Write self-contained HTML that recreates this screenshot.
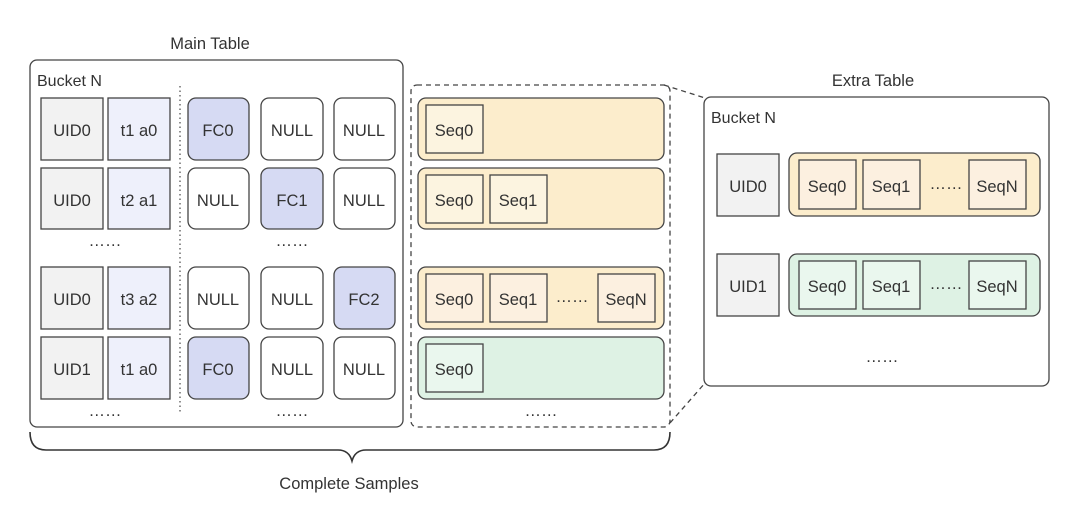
<!DOCTYPE html>
<html><head><meta charset="utf-8"><style>
html,body{margin:0;padding:0;background:#fff}
svg{display:block}
text{font-family:"Liberation Sans","Noto Sans CJK SC",sans-serif;fill:#333;font-size:16.5px}
.c{text-anchor:middle}
</style></head><body>
<svg width="1080" height="523" viewBox="0 0 1080 523" xmlns="http://www.w3.org/2000/svg">
<g stroke="#444" stroke-width="1.3">
<rect x="30" y="60" width="373" height="367" rx="7" fill="#fff"/>
<line x1="180" y1="86" x2="180" y2="412" stroke-dasharray="1.5,3" stroke="#555"/>
<rect x="41" y="98" width="62" height="62" fill="#f2f2f2"/>
<rect x="108" y="98" width="62" height="62" fill="#eef0fb"/>
<rect x="41" y="168" width="62" height="61" fill="#f2f2f2"/>
<rect x="108" y="168" width="62" height="61" fill="#eef0fb"/>
<rect x="41" y="267" width="62" height="62" fill="#f2f2f2"/>
<rect x="108" y="267" width="62" height="62" fill="#eef0fb"/>
<rect x="41" y="337" width="62" height="62" fill="#f2f2f2"/>
<rect x="108" y="337" width="62" height="62" fill="#eef0fb"/>
<rect x="188" y="98" width="61" height="62" rx="8" fill="#d6daf3"/>
<rect x="261" y="98" width="62" height="62" rx="8" fill="#fff"/>
<rect x="334" y="98" width="61" height="62" rx="8" fill="#fff"/>
<rect x="188" y="168" width="61" height="61" rx="8" fill="#fff"/>
<rect x="261" y="168" width="62" height="61" rx="8" fill="#d6daf3"/>
<rect x="334" y="168" width="61" height="61" rx="8" fill="#fff"/>
<rect x="188" y="267" width="61" height="62" rx="8" fill="#fff"/>
<rect x="261" y="267" width="62" height="62" rx="8" fill="#fff"/>
<rect x="334" y="267" width="61" height="62" rx="8" fill="#d6daf3"/>
<rect x="188" y="337" width="61" height="62" rx="8" fill="#d6daf3"/>
<rect x="261" y="337" width="62" height="62" rx="8" fill="#fff"/>
<rect x="334" y="337" width="61" height="62" rx="8" fill="#fff"/>
<rect x="411" y="85" width="259" height="342" rx="6" fill="none" stroke-dasharray="5,4"/>
<line x1="664" y1="85" x2="705" y2="98" stroke-dasharray="5,4"/>
<line x1="670" y1="423" x2="705" y2="383" stroke-dasharray="5,4"/>
<rect x="418" y="98" width="246" height="62" rx="8" fill="#fcedcc"/>
<rect x="426" y="105" width="57" height="48" fill="#fcf4e0"/>
<rect x="418" y="168" width="246" height="61" rx="8" fill="#fcedcc"/>
<rect x="426" y="175" width="57" height="48" fill="#fcf4e0"/>
<rect x="490" y="175" width="57" height="48" fill="#fcf4e0"/>
<rect x="418" y="267" width="246" height="62" rx="8" fill="#fcedcc"/>
<rect x="426" y="274" width="57" height="48" fill="#fcf0e0"/>
<rect x="490" y="274" width="57" height="48" fill="#fcf0e0"/>
<rect x="598" y="274" width="57" height="48" fill="#fcf0e0"/>
<rect x="418" y="337" width="246" height="62" rx="8" fill="#def2e4"/>
<rect x="426" y="344" width="57" height="48" fill="#eaf7ee"/>
<path d="M30 432 Q30 450 46 450 L338 450 Q349 450 352 461 Q355 450 366 450 L654 450 Q670 450 670 432" fill="none" stroke="#333" stroke-width="1.6"/>
<rect x="704" y="97" width="345" height="289" rx="7" fill="#fff"/>
<rect x="717" y="154" width="62" height="62" fill="#f2f2f2"/>
<rect x="789" y="153" width="251" height="63" rx="8" fill="#fcedcc"/>
<rect x="799" y="160" width="57" height="49" fill="#fcf0e0"/>
<rect x="863" y="160" width="57" height="49" fill="#fcf0e0"/>
<rect x="969" y="160" width="57" height="49" fill="#fcf0e0"/>
<rect x="717" y="254" width="62" height="62" fill="#f2f2f2"/>
<rect x="789" y="254" width="251" height="62" rx="8" fill="#def2e4"/>
<rect x="799" y="261" width="57" height="48" fill="#eaf7ee"/>
<rect x="863" y="261" width="57" height="48" fill="#eaf7ee"/>
<rect x="969" y="261" width="57" height="48" fill="#eaf7ee"/>
</g>
<text x="210" y="49" class="c">Main Table</text>
<text x="37" y="86" style="font-size:16px">Bucket N</text>
<g class="c">
<text x="72" y="136" class="c">UID0</text><text x="139" y="136" class="c">t1 a0</text>
<text x="72" y="206" class="c">UID0</text><text x="139" y="206" class="c">t2 a1</text>
<text x="105" y="246" class="c">……</text>
<text x="72" y="305" class="c">UID0</text><text x="139" y="305" class="c">t3 a2</text>
<text x="72" y="375" class="c">UID1</text><text x="139" y="375" class="c">t1 a0</text>
<text x="105" y="416" class="c">……</text>
<text x="218" y="136" class="c">FC0</text><text x="292" y="136" class="c">NULL</text><text x="364" y="136" class="c">NULL</text>
<text x="218" y="206" class="c">NULL</text><text x="292" y="206" class="c">FC1</text><text x="364" y="206" class="c">NULL</text>
<text x="292" y="246" class="c">……</text>
<text x="218" y="305" class="c">NULL</text><text x="292" y="305" class="c">NULL</text><text x="364" y="305" class="c">FC2</text>
<text x="218" y="375" class="c">FC0</text><text x="292" y="375" class="c">NULL</text><text x="364" y="375" class="c">NULL</text>
<text x="292" y="416" class="c">……</text>
<text x="454" y="136" class="c">Seq0</text>
<text x="454" y="206" class="c">Seq0</text><text x="518" y="206" class="c">Seq1</text>
<text x="454" y="305" class="c">Seq0</text><text x="518" y="305" class="c">Seq1</text><text x="572" y="302" class="c">……</text><text x="626" y="305" class="c">SeqN</text>
<text x="454" y="375" class="c">Seq0</text>
<text x="541" y="416" class="c">……</text>
<text x="349" y="489" class="c">Complete Samples</text>
<text x="873" y="86" class="c">Extra Table</text>
<text x="748" y="192" class="c">UID0</text>
<text x="827" y="192" class="c">Seq0</text><text x="891" y="192" class="c">Seq1</text><text x="946" y="189" class="c">……</text><text x="997" y="192" class="c">SeqN</text>
<text x="748" y="292" class="c">UID1</text>
<text x="827" y="292" class="c">Seq0</text><text x="891" y="292" class="c">Seq1</text><text x="946" y="289" class="c">……</text><text x="997" y="292" class="c">SeqN</text>
<text x="882" y="362" class="c">……</text>
</g>
<text x="711" y="123" style="font-size:16px">Bucket N</text>
</svg>
</body></html>
